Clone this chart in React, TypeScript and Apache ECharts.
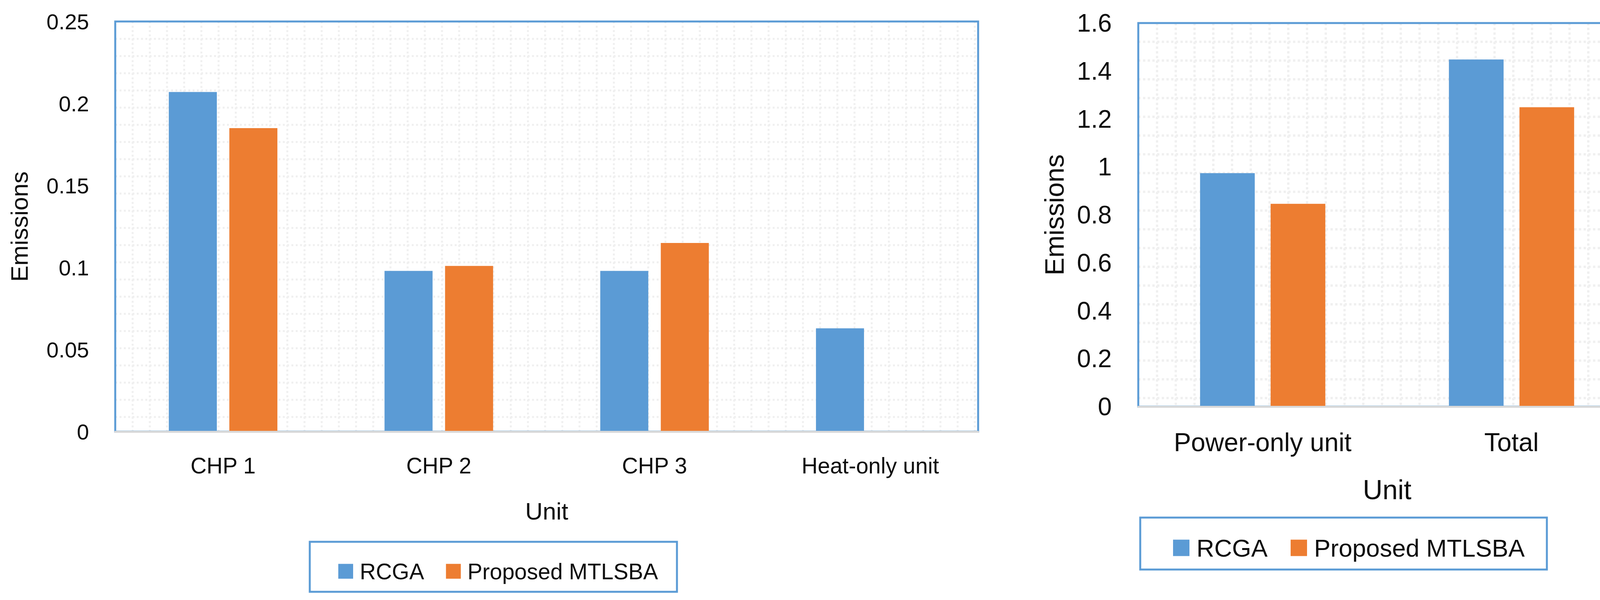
import React, { useEffect, useRef } from "react";
import * as echarts from "echarts";

// ---- data ----
const seriesNames = ["RCGA", "Proposed MTLSBA"];
const leftCategories = ["CHP 1", "CHP 2", "CHP 3", "Heat-only unit"];
const leftRCGA = [0.207, 0.098, 0.098, 0.063];
const leftMTLSBA = [0.185, 0.101, 0.115, 0];
const leftYTicks = [0, 0.05, 0.1, 0.15, 0.2, 0.25];

const rightCategories = ["Power-only unit", "Total"];
const rightRCGA = [0.974, 1.448];
const rightMTLSBA = [0.846, 1.249];
const rightYTicks = [0, 0.2, 0.4, 0.6, 0.8, 1, 1.2, 1.4, 1.6];

const yTitle = "Emissions";
const xTitle = "Unit";

// ---- styles ----
const BLUE = "#5B9BD5";
const ORANGE = "#ED7D31";
const FONT = "'Liberation Sans', Arial, sans-serif";
const TXT = "#0d0d0d";

function patternAxis(gridIndex: number, max: number, dot: number, gap: number, inverse = false) {
  return {
    type: "value",
    gridIndex,
    min: 0,
    max,
    interval: 1,
    inverse,
    axisLine: { show: false },
    axisTick: { show: false },
    axisLabel: { show: false },
    splitLine: {
      show: true,
      showMinLine: false,
      showMaxLine: false,
      lineStyle: { color: "#f0f0f0", width: dot, type: [dot, gap] },
    },
    z: 1,
  };
}

export default function App() {
  const ref = useRef<HTMLDivElement>(null);

  useEffect(() => {
    document.body.style.margin = "0";
    if (!ref.current) return;
    const chart = echarts.init(ref.current, undefined, { renderer: "svg" });

    const catAxis = (gridIndex: number, data: string[], fs: number, nameFs: number, nameGap: number) => ({
      type: "category",
      gridIndex,
      data,
      axisLine: { show: true, lineStyle: { color: "#D9D9D9", width: 5 } },
      axisTick: { show: false },
      axisLabel: { margin: 58, fontSize: fs, color: TXT, fontFamily: FONT, interval: 0 },
      name: xTitle,
      nameLocation: "middle",
      nameGap,
      nameTextStyle: { fontSize: nameFs, color: TXT, fontFamily: FONT },
      z: 5,
    });

    const valAxis = (gridIndex: number, ticks: number[], fs: number, margin: number, nameFs: number, nameGap: number) => ({
      type: "value",
      gridIndex,
      min: ticks[0],
      max: ticks[ticks.length - 1],
      interval: ticks[1] - ticks[0],
      axisLine: { show: false },
      axisTick: { show: false },
      splitLine: { show: false },
      axisLabel: { margin, fontSize: fs, color: TXT, fontFamily: FONT },
      name: yTitle,
      nameLocation: "middle",
      nameRotate: 90,
      nameGap,
      nameTextStyle: { fontSize: nameFs, color: TXT, fontFamily: FONT },
    });

    const option: any = {
      animation: false,
      backgroundColor: "#ffffff",
      grid: [
        { left: 295, top: 55, width: 2209, height: 1050, show: true, borderColor: BLUE, borderWidth: 5, backgroundColor: "transparent", z: 2 },
        { left: 2914, top: 59, width: 1274, height: 982, show: true, borderColor: BLUE, borderWidth: 5, backgroundColor: "transparent", z: 2 },
      ],
      xAxis: [
        catAxis(0, leftCategories, 57, 62, 172),
        catAxis(1, rightCategories, 66, 70, 178),
        patternAxis(0, 2209 / 44, 5, 6),
        patternAxis(1, 1274 / 48, 6, 6),
      ],
      yAxis: [
        valAxis(0, leftYTicks, 56, 67, 62, 215),
        valAxis(1, rightYTicks, 64, 68, 68, 181),
        patternAxis(0, 1050 / 44, 5, 6, true),
        patternAxis(1, 982 / 48, 6, 6, true),
      ],
      legend: [
        {
          data: seriesNames,
          left: 866,
          top: 1434,
          padding: 0,
          itemWidth: 38,
          itemHeight: 38,
          itemGap: 56,
          icon: "rect",
          textStyle: { fontSize: 57, color: TXT, fontFamily: FONT, lineHeight: 38, padding: [0, 0, 0, 12] },
        },
        {
          data: seriesNames,
          left: 3003,
          top: 1371,
          padding: 0,
          itemWidth: 42,
          itemHeight: 42,
          itemGap: 59,
          icon: "rect",
          textStyle: { fontSize: 63, color: TXT, fontFamily: FONT, lineHeight: 42, padding: [0, 0, 0, 13] },
        },
      ],
      graphic: [
        { type: "rect", z: 0, shape: { x: 793, y: 1387, width: 940, height: 128 }, style: { fill: "transparent", stroke: BLUE, lineWidth: 5 } },
        { type: "rect", z: 0, shape: { x: 2919, y: 1325, width: 1041, height: 133 }, style: { fill: "transparent", stroke: BLUE, lineWidth: 5 } },
      ],
      series: [
        { name: seriesNames[0], type: "bar", xAxisIndex: 0, yAxisIndex: 0, data: leftRCGA, barWidth: 123, barGap: "26%", itemStyle: { color: BLUE }, z: 3 },
        { name: seriesNames[1], type: "bar", xAxisIndex: 0, yAxisIndex: 0, data: leftMTLSBA, barWidth: 123, barGap: "26%", itemStyle: { color: ORANGE }, z: 3 },
        { name: seriesNames[0], type: "bar", xAxisIndex: 1, yAxisIndex: 1, data: rightRCGA, barWidth: 140, barGap: "29%", itemStyle: { color: BLUE }, z: 3 },
        { name: seriesNames[1], type: "bar", xAxisIndex: 1, yAxisIndex: 1, data: rightMTLSBA, barWidth: 140, barGap: "29%", itemStyle: { color: ORANGE }, z: 3 },
      ],
    };

    chart.setOption(option);
    return () => chart.dispose();
  }, []);

  return <div ref={ref} style={{ width: 4224, height: 1536 }} />;
}
